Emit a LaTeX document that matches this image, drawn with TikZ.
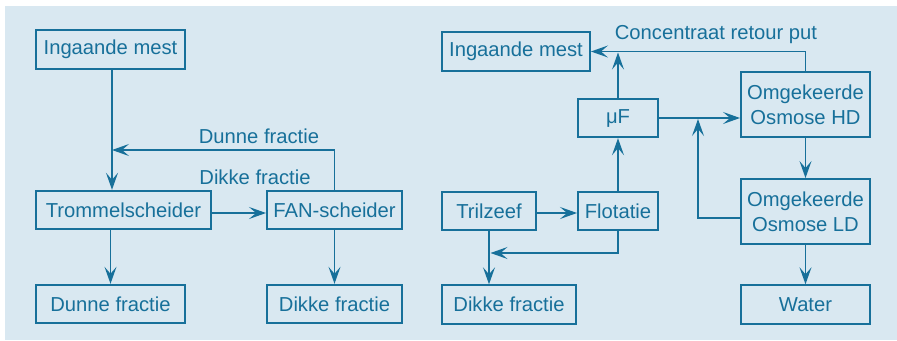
\documentclass[tikz,border=0pt]{standalone}
\usepackage{fontspec}
\setmainfont{Liberation Sans}
\usetikzlibrary{arrows.meta,positioning,calc}
\definecolor{flowblue}{HTML}{17709A}
\definecolor{panelbg}{HTML}{D9E8F1}
\tikzset{
  blok/.style={draw=flowblue, line width=1.1pt, text=flowblue, inner sep=0pt,
    font=\fontsize{11.5}{14.2}\selectfont, align=center, minimum height=0.77cm},
  hoog/.style={blok, minimum height=1.3cm},
  lab/.style={text=flowblue, font=\fontsize{11.5}{14.2}\selectfont},
  pijl/.style={-{Stealth[length=3.4mm,width=2.4mm,inset=1.4mm]}, line width=0.85pt, color=flowblue}
}
\begin{document}
\begin{tikzpicture}[x=1cm,y=1cm]
\useasboundingbox (0,0) rectangle (17.94,6.8);
\fill[panelbg] (0.1,0) rectangle (17.94,6.68);

% ---------------- Left: trommel + FAN ----------------
\node[blok, minimum width=2.98cm] (ingL) at (2.21,5.81) {Ingaande mest};
\node[blok, minimum width=3.5cm] (trom) at (2.47,2.6) {Trommelscheider};
\node[blok, minimum width=2.7cm] (fan) at (6.69,2.6) {FAN-scheider};
\node[blok, minimum width=2.98cm] (dunL) at (2.21,0.72) {Dunne fractie};
\node[blok, minimum width=2.7cm] (dikL) at (6.69,0.72) {Dikke fractie};

\coordinate (terugL) at ($(ingL.south)+(0.03,0)$);
\draw[pijl] (terugL) -- (terugL |- trom.north);
\draw[pijl] (fan.north) |- (terugL |- 0,3.8);
\draw[pijl] (trom.east |- 0,2.54) -- (fan.west |- 0,2.54);
\draw[pijl] (dunL.north |- trom.south) -- (dunL.north);
\draw[pijl] (fan.south) -- (dikL.north);

\node[lab] (dunLab) at (5.18,4.08) {Dunne fractie};
\node[lab] (dikLab) at (5.10,3.26) {Dikke fractie};

% ---------------- Right: trilzeef, flotatie, osmose ----------------
\node[blok, minimum width=2.96cm] (ingR) at (10.32,5.77) {Ingaande mest};
\node[blok, minimum width=1.6cm] (muF) at (12.36,4.44) {μF};
\node[hoog, minimum width=2.58cm] (hd) at (16.11,4.71) {Omgekeerde\\Osmose HD};
\node[blok, minimum width=1.88cm] (tril) at (9.78,2.58) {Trilzeef};
\node[blok, minimum width=1.6cm] (flot) at (12.36,2.58) {Flotatie};
\node[hoog, minimum width=2.58cm] (ld) at (16.11,2.57) {Omgekeerde\\Osmose LD};
\node[blok, minimum width=2.68cm] (dikR) at (10.18,0.71) {Dikke fractie};
\node[blok, minimum width=2.58cm] (water) at (16.11,0.71) {Water};

\draw[pijl] (hd.north) |- (ingR.east);
\draw[pijl] (muF.north) -- ($(muF.north |- ingR.east)+(0,-0.02)$);
\draw[pijl] (muF.east) -- (muF.east -| hd.west);
\draw[pijl] ($(ld.west)+(0,-0.13)$) -| ($(13.96,0 |- muF.east)+(0,-0.02)$);
\draw[pijl] (hd.south) -- (ld.north);
\draw[pijl] (ld.south) -- (water.north);
\draw[pijl] (tril.east |- 0,2.54) -- (flot.west |- 0,2.54);
\draw[pijl] (flot.north) -- (muF.south);
\draw[pijl] (tril.south) -- (tril.south |- dikR.north);
\draw[pijl] (flot.south) |- ($(tril.south |- 0,1.74)+(0.03,0)$);

\node[lab] (concLab) at (14.32,6.1) {Concentraat retour put};

\end{tikzpicture}
\end{document}
